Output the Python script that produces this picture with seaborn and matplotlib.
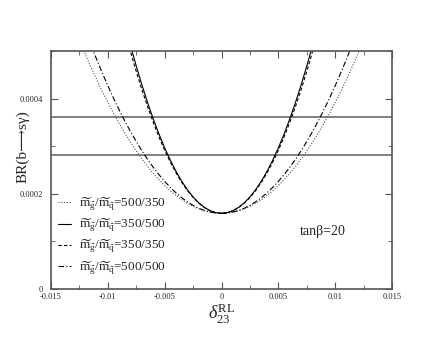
import numpy as np
import pandas as pd
import matplotlib
matplotlib.use("Agg")
import matplotlib.pyplot as plt
import matplotlib.ticker as mticker
import seaborn as sns

# delta_23^RL in units of 1e-3
delta_1e3 = [-12.5, -12.0, -11.5, -11.0, -10.5, -10.0, -9.5, -9.0, -8.5, -8.0,
             -7.5, -7.0, -6.5, -6.0, -5.5, -5.0, -4.5, -4.0, -3.5, -3.0,
             -2.5, -2.0, -1.5, -1.0, -0.5, 0.0, 0.5, 1.0, 1.5, 2.0,
             2.5, 3.0, 3.5, 4.0, 4.5, 5.0, 5.5, 6.0, 6.5, 7.0,
             7.5, 8.0, 8.5, 9.0, 9.5, 10.0, 10.5, 11.0, 11.5, 12.0, 12.5]

# BR(b->s gamma) in units of 1e-4
br_500_350 = [5.231, 4.945, 4.671, 4.409, 4.159, 3.920, 3.693, 3.477, 3.273, 3.081,
              2.901, 2.732, 2.574, 2.429, 2.295, 2.173, 2.062, 1.963, 1.875, 1.800,
              1.736, 1.683, 1.642, 1.613, 1.596, 1.590, 1.596, 1.613, 1.642, 1.683,
              1.736, 1.800, 1.875, 1.963, 2.062, 2.173, 2.295, 2.429, 2.574, 2.732,
              2.901, 3.081, 3.273, 3.477, 3.693, 3.920, 4.159, 4.409, 4.671, 4.945, 5.231]
br_350_500 = [10.184, 9.510, 8.864, 8.245, 7.654, 7.090, 6.554, 6.045, 5.564, 5.110,
              4.684, 4.285, 3.914, 3.570, 3.254, 2.965, 2.704, 2.470, 2.264, 2.085,
              1.934, 1.810, 1.714, 1.645, 1.604, 1.590, 1.604, 1.645, 1.714, 1.810,
              1.934, 2.085, 2.264, 2.470, 2.704, 2.965, 3.254, 3.570, 3.914, 4.285,
              4.684, 5.110, 5.564, 6.045, 6.554, 7.090, 7.654, 8.245, 8.864, 9.510, 10.184]
br_350_350 = [9.871, 9.222, 8.599, 8.003, 7.433, 6.890, 6.373, 5.883, 5.419, 4.982,
              4.571, 4.187, 3.829, 3.498, 3.193, 2.915, 2.663, 2.438, 2.239, 2.067,
              1.921, 1.802, 1.709, 1.643, 1.603, 1.590, 1.603, 1.643, 1.709, 1.802,
              1.921, 2.067, 2.239, 2.438, 2.663, 2.915, 3.193, 3.498, 3.829, 4.187,
              4.571, 4.982, 5.419, 5.883, 6.373, 6.890, 7.433, 8.003, 8.599, 9.222, 9.871]
br_500_500 = [5.778, 5.449, 5.134, 4.833, 4.545, 4.270, 4.009, 3.761, 3.526, 3.305,
              3.098, 2.903, 2.722, 2.555, 2.401, 2.260, 2.133, 2.019, 1.918, 1.831,
              1.758, 1.697, 1.650, 1.617, 1.597, 1.590, 1.597, 1.617, 1.650, 1.697,
              1.758, 1.831, 1.918, 2.019, 2.133, 2.260, 2.401, 2.555, 2.722, 2.903,
              3.098, 3.305, 3.526, 3.761, 4.009, 4.270, 4.545, 4.833, 5.134, 5.449, 5.778]

# experimental band (units 1e-4)
band = [2.82, 3.62]

mlab = r'$\widetilde{\mathrm{m}}_{\widetilde{\mathrm{g}}}/\widetilde{\mathrm{m}}_{\widetilde{\mathrm{q}}}$'
labels = [mlab + '=500/350', mlab + '=350/500', mlab + '=350/350', mlab + '=500/500']
series = [br_500_350, br_350_500, br_350_350, br_500_500]

frames = []
for lab, vals in zip(labels, series):
    frames.append(pd.DataFrame({"delta": np.array(delta_1e3) * 1e-3,
                                "BR": np.array(vals) * 1e-4,
                                "mass": lab}))
df = pd.concat(frames, ignore_index=True)

sns.set_style("ticks")
plt.rcParams['font.family'] = ['Liberation Serif', 'DejaVu Serif']
plt.rcParams['mathtext.fontset'] = 'custom'
plt.rcParams['mathtext.rm'] = 'Liberation Serif'
plt.rcParams['mathtext.it'] = 'Liberation Serif:italic'

fig = plt.figure(figsize=(4.41, 3.41), dpi=100)
ax = fig.add_axes([0.1156, 0.1525, 0.7734, 0.698])

for y in band:
    ax.axhline(y * 1e-4, color='#777777', lw=1.3, zorder=1)

dashes = {labels[0]: (1, 1.5), labels[1]: '', labels[2]: (3, 2), labels[3]: (5, 2, 1, 2)}
sns.lineplot(data=df, x="delta", y="BR", hue="mass", style="mass",
             hue_order=labels, style_order=labels,
             palette=['#555555', 'black', 'black', 'black'],
             dashes=dashes, lw=0.8, estimator=None, sort=True, ax=ax)

ax.set_xlim(-0.015, 0.015)
ax.set_ylim(0, 0.0005)
ax.xaxis.set_major_locator(mticker.MultipleLocator(0.005))
ax.xaxis.set_minor_locator(mticker.MultipleLocator(0.0025))
ax.yaxis.set_major_locator(mticker.FixedLocator([0, 0.0002, 0.0004]))
ax.yaxis.set_minor_locator(mticker.MultipleLocator(0.0001))
fmt = mticker.FuncFormatter(lambda v, p: '%g' % round(v, 6))
ax.xaxis.set_major_formatter(fmt)
ax.yaxis.set_major_formatter(fmt)
ax.tick_params(which='both', direction='in', top=True, right=True,
               color='#555555', labelsize=6)
ax.tick_params(axis='x', pad=3)
ax.tick_params(axis='y', pad=6)
ax.tick_params(which='major', length=5)
ax.tick_params(which='minor', length=3)
for s in ax.spines.values():
    s.set_color('#555555')
    s.set_linewidth(1.2)

ax.set_xlabel(r'$\delta^{\mathrm{RL}}_{23}$', fontsize=13, labelpad=0)
ax.set_ylabel('BR(b⟶sγ)', fontsize=11)
ax.yaxis.set_label_coords(-0.082, 0.6)
ax.yaxis.label.set_verticalalignment('center')
ax.text(0.0089, 0.000120, 'tanβ=20', fontsize=10, ha='center', va='center')

sns.move_legend(ax, 'center left', bbox_to_anchor=(0.02, 0.222), frameon=False,
                title=None, fontsize=9.5, handlelength=1.0, handletextpad=0.6,
                labelspacing=0.3, borderpad=0, borderaxespad=0)

fig.savefig("out.png", dpi=100)
